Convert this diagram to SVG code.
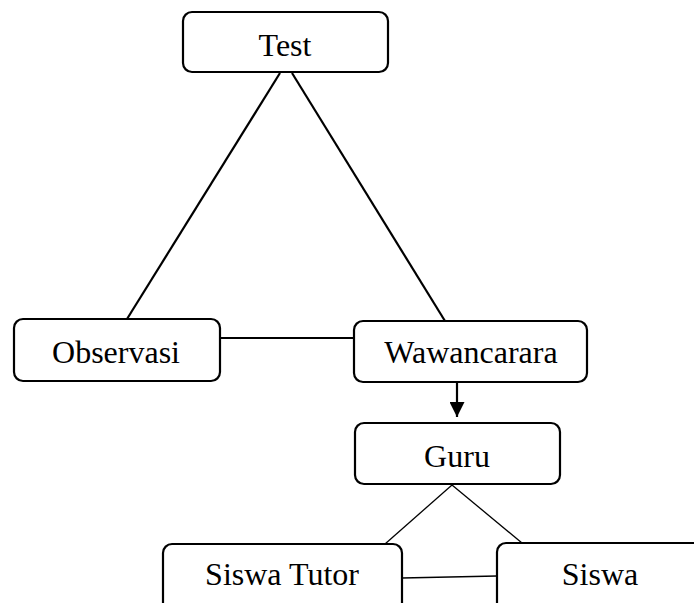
<svg xmlns="http://www.w3.org/2000/svg" width="694" height="603" viewBox="0 0 694 603">
<style>
.box{fill:#fff;stroke:#000;stroke-width:2.2}
.lbl{font-family:"Liberation Serif","Times New Roman",serif;font-size:32px;fill:#000;text-anchor:middle}
.thick{stroke:#000;stroke-width:2.2;fill:none}
.thin{stroke:#000;stroke-width:1.3;fill:none}
</style>
<defs>
<marker id="arr" markerWidth="15" markerHeight="15" refX="15" refY="7.5" orient="auto" markerUnits="userSpaceOnUse">
<path d="M0,0 L15,7.5 L0,15 Z" fill="#000"/>
</marker>
</defs>
<rect width="694" height="603" fill="#fff"/>
<g id="connectors">
<line class="thick" x1="280" y1="73" x2="127" y2="319"/>
<line class="thick" x1="292" y1="73" x2="445" y2="321"/>
<line class="thick" x1="220" y1="338" x2="354" y2="338"/>
<line class="thick" x1="457" y1="382" x2="457" y2="417" marker-end="url(#arr)"/>
<line class="thin" x1="452" y1="485" x2="385" y2="544"/>
<line class="thin" x1="452" y1="485" x2="522" y2="543"/>
<line class="thin" x1="402" y1="578" x2="497" y2="576"/>
</g>
<g id="test">
<rect class="box" x="183" y="12" width="205" height="60" rx="9"/>
<text class="lbl" x="285" y="56">Test</text>
</g>
<g id="observasi">
<rect class="box" x="14" y="319" width="206" height="62" rx="9"/>
<text class="lbl" x="116" y="363">Observasi</text>
</g>
<g id="wawancarara">
<rect class="box" x="354" y="321" width="233" height="61" rx="9"/>
<text class="lbl" x="471" y="363">Wawancarara</text>
</g>
<g id="guru">
<rect class="box" x="355" y="423" width="205" height="61" rx="9"/>
<text class="lbl" x="457" y="467">Guru</text>
</g>
<g id="siswa-tutor">
<rect class="box" x="163" y="544" width="239" height="80" rx="9"/>
<text class="lbl" x="282" y="585">Siswa Tutor</text>
</g>
<g id="siswa">
<rect class="box" x="497" y="543" width="230" height="80" rx="9"/>
<text class="lbl" x="600" y="585">Siswa</text>
</g>
</svg>
